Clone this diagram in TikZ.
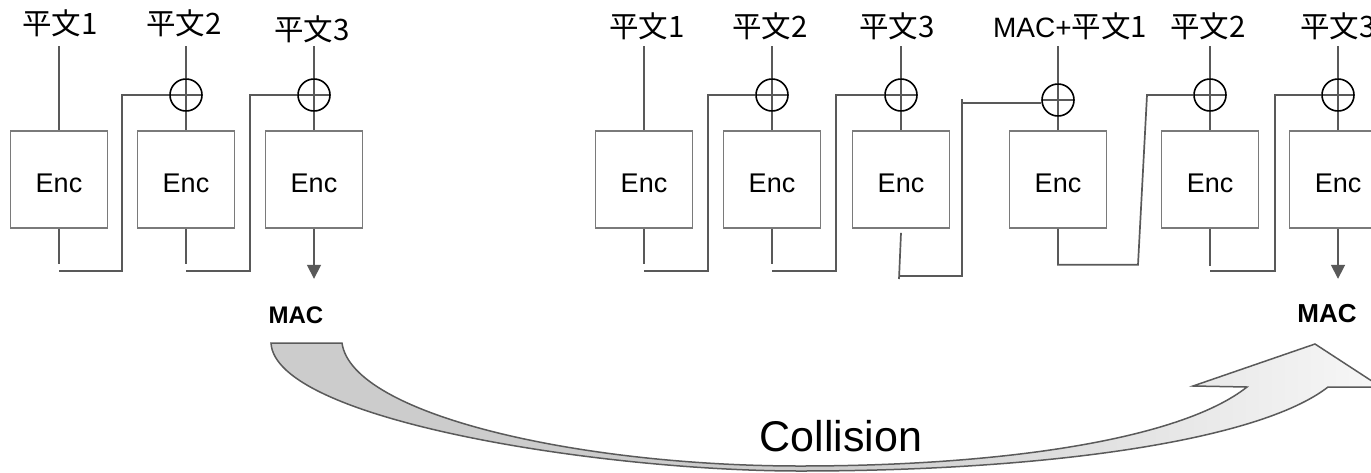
\documentclass[tikz,border=0pt]{standalone}
\usepackage{fontspec}
\setmainfont{Liberation Sans}
\newfontfamily\cjk{Noto Sans CJK JP}
\usetikzlibrary{arrows.meta}
\definecolor{lc}{HTML}{595959}
\definecolor{bc}{HTML}{7A7A7A}
\definecolor{ag}{HTML}{CCCCCC}
\definecolor{aw}{HTML}{F7F7F7}
\definecolor{ab}{HTML}{5A5A5A}
\pgfdeclarehorizontalshading{arrowshade}{100bp}{color(0bp)=(ag); color(25bp)=(ag); color(50bp)=(ag); color(75bp)=(aw); color(100bp)=(aw)}
\tikzset{
  ln/.style={draw=lc, line width=1.7pt},
  encbox/.style={draw=bc, line width=1.6pt, minimum width=97pt, minimum height=97pt, inner sep=0pt,
    font=\fontsize{27}{30}\selectfont, text height=26pt, text depth=0pt},
  xor/.style={circle, draw=black, line width=1.6pt, minimum size=32pt, inner sep=0pt,
    path picture={\draw[lc, line width=1.7pt] (path picture bounding box.north) -- (path picture bounding box.south)
      (path picture bounding box.west) -- (path picture bounding box.east);}},
  lab/.style={font=\cjk\fontsize{29.5}{32}\selectfont, inner sep=0pt, anchor=base},
  maclab/.style={font=\bfseries\fontsize{24}{28}\selectfont, inner sep=0pt, anchor=base},
  tip/.style={-{Triangle[width=14pt,length=14pt]}},
}
\begin{document}
\begin{tikzpicture}[x=1pt, y=-1pt]
\useasboundingbox (0,0) rectangle (1371,472);
\clip (0,0) rectangle (1371,472);

% ---------- big curved arrow ----------
\path[draw=ab, line width=1.5pt, shade, shading=arrowshade, line join=miter]
  (271,343) -- (342,343)
  .. controls (352,415) and (580,466) .. (800,466)
  .. controls (1000,466) and (1180,440) .. (1247,387)
  -- (1193,386) -- (1315,344) -- (1381,387) -- (1328,387)
  .. controls (1260,440) and (1050,471) .. (800,471)
  .. controls (600,471) and (275,420) .. (271,343) -- cycle;
\node[inner sep=0pt, anchor=base, font=\fontsize{43}{48}\selectfont] (coll) at (841,451) {Collision};

% ---------- left chain ----------
\node[lab] (p1) at (60,34) {平文1};
\node[lab] (p2) at (184,34) {平文2};
\node[lab] (p3) at (312,40) {平文3};

\node[encbox] (e1) at (59,179.5) {Enc};
\node[encbox] (e2) at (186,179.5) {Enc};
\node[encbox] (e3) at (314,179.5) {Enc};
\node[xor] (x2) at (186,95) {};
\node[xor] (x3) at (314,95) {};

\draw[ln] (e1.north |- 0,46) -- (e1.north);
\draw[ln] (x2.north |- 0,46) -- (x2.north) (x2.south) -- (e2.north);
\draw[ln] (x3.north |- 0,46) -- (x3.north) (x3.south) -- (e3.north);

\draw[ln] (e1.south) -- ++(0,35);
\draw[ln] (e1.south) ++(0,42) -- ++(63,0) |- (x2.west);
\draw[ln] (e2.south) -- ++(0,35);
\draw[ln] (e2.south) ++(0,42) -- ++(64,0) |- (x3.west);
\draw[ln, tip, fill=lc] (e3.south) -- ++(0,50);

\node[maclab] (mac1) at (296,323) {MAC};

% ---------- right chain ----------
\node[lab] (q1) at (647,37) {平文1};
\node[lab] (q2) at (770,37) {平文2};
\node[lab] (q3) at (897,37) {平文3};
\node[lab] (q4) at (1070,37) {{\rmfamily\fontsize{28}{32}\selectfont MAC+}平文1};
\node[lab] (q5) at (1208,37) {平文2};
\node[lab] (q6) at (1338,37) {平文3};

\node[encbox] (e4) at (644,179.5) {Enc};
\node[encbox] (e5) at (772,179.5) {Enc};
\node[encbox] (e6) at (901,179.5) {Enc};
\node[encbox] (e7) at (1058,179.5) {Enc};
\node[encbox] (e8) at (1210,179.5) {Enc};
\node[encbox] (e9) at (1338,179.5) {Enc};

\node[xor] (x5) at (772,95) {};
\node[xor] (x6) at (901,95) {};
\node[xor] (x7) at (1058,100) {};
\node[xor] (x8) at (1210,95) {};
\node[xor] (x9) at (1338,95) {};

\draw[ln] (e4.north |- 0,46) -- (e4.north);
\draw[ln] (x5.north |- 0,46) -- (x5.north) (x5.south) -- (e5.north);
\draw[ln] (x6.north |- 0,46) -- (x6.north) (x6.south) -- (e6.north);
\draw[ln] (x7.north |- 0,46) -- (x7.north) (x7.south) -- (e7.north);
\draw[ln] (x8.north |- 0,46) -- (x8.north) (x8.south) -- (e8.north);
\draw[ln] (x9.north |- 0,46) -- (x9.north) (x9.south) -- (e9.north);

\draw[ln] (e4.south) -- ++(0,35);
\draw[ln] (e4.south) ++(0,42) -- ++(64,0) |- (x5.west);
\draw[ln] (e5.south) -- ++(0,35);
\draw[ln] (e5.south) ++(0,42) -- ++(64,0) |- (x6.west);

\coordinate (c6a) at (899,276);
\coordinate (c6b) at (962,276);
\coordinate (c6c) at (962,99);
\coordinate (c6d) at (962,103);
\draw[ln] (e6.south) ++(0,4) -- (899,279);
\draw[ln] (c6a) -- (c6b) -- (c6c);
\draw[ln] (c6d) -- (x7.west |- c6d);

\draw[ln] (e7.south) -- ++(0,36) -- ++(80,0) -- (1147,95) -- (x8.west);
\draw[ln] (e8.south) -- ++(0,37);
\draw[ln] (e8.south) ++(0,42) -- ++(65,0) |- (x9.west);
\draw[ln, tip, fill=lc] (e9.south) -- ++(0,50);

\node[maclab, font=\bfseries\fontsize{26}{30}\selectfont] (mac2) at (1327,322) {MAC};
\end{tikzpicture}
\end{document}
